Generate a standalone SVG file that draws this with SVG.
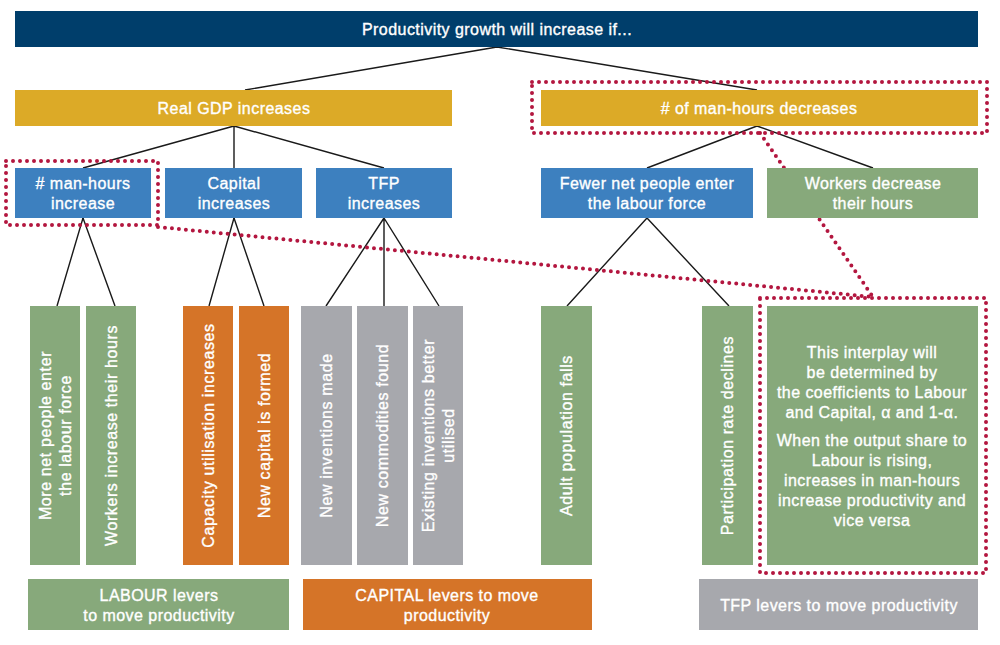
<svg xmlns="http://www.w3.org/2000/svg" width="1000" height="645" viewBox="0 0 1000 645">
<style>
text{font-family:"Liberation Sans",Arial,sans-serif;font-size:16px;fill:#fff;stroke:#fff;stroke-width:0.35;text-anchor:middle;letter-spacing:0.45px}
.v{letter-spacing:0.6px}
.navy{fill:#003e6b}
.gold{fill:#dcaa27}
.blue{fill:#3d80bf}
.green{fill:#87a97b}
.orange{fill:#d57428}
.gray{fill:#a7a8ad}
.con{stroke:#1a1a1a;stroke-width:1.4;fill:none}
.dot{stroke:#b3163f;stroke-width:4;stroke-dasharray:0 7;stroke-linecap:round;fill:none}
</style>
<rect width="1000" height="645" fill="#fff"/>
<g id="connectors">
<path class="con" d="M497,47L245,90M497,47L757,90"/>
<path class="con" d="M234,126L83,168M234,126L234,168M234,126L384,168"/>
<path class="con" d="M757,126L647,168M757,126L873,168"/>
<path class="con" d="M83,218L57,306M83,218L115,306"/>
<path class="con" d="M234,218L209,306M234,218L264,306"/>
<path class="con" d="M384,218L326,306M384,218L384,306M384,218L439,306"/>
<path class="con" d="M647,218L567,306M647,218L729,306"/>
<path class="dot" d="M158,227L873,297"/>
<path class="dot" d="M760,133L873,297"/>
</g>
<g id="top"><rect class="navy" x="15" y="11" width="963" height="36"/><text x="497" y="35">Productivity growth will increase if...</text></g>
<g id="realgdp"><rect class="gold" x="15" y="90" width="437" height="36"/><text x="234" y="114">Real GDP increases</text></g>
<g id="manhoursdec"><rect class="gold" x="541" y="90" width="437" height="36"/><text x="759" y="114"># of man-hours decreases</text>
<rect class="dot" x="532" y="82" width="455" height="51"/></g>
<g id="manhoursinc"><rect class="blue" x="15" y="168" width="136" height="50"/><text x="83" y="189"># man-hours</text><text x="83" y="209">increase</text>
<rect class="dot" x="6" y="161" width="152" height="64"/></g>
<g id="capital"><rect class="blue" x="165" y="168" width="137" height="50"/><text x="234" y="189">Capital</text><text x="234" y="209">increases</text></g>
<g id="tfp"><rect class="blue" x="316" y="168" width="136" height="50"/><text x="384" y="189">TFP</text><text x="384" y="209">increases</text></g>
<g id="fewer"><rect class="blue" x="541" y="168" width="212" height="50"/><text x="647" y="189">Fewer net people enter</text><text x="647" y="209">the labour force</text></g>
<g id="workersdec"><rect class="green" x="767" y="168" width="211" height="50"/><text x="873" y="189">Workers decrease</text><text x="873" y="209">their hours</text></g>
<g id="leaf1"><rect class="green" x="30" y="306" width="50" height="259"/><text class="v" transform="translate(51,435.5) rotate(-90)">More net people enter</text><text class="v" transform="translate(71,435.5) rotate(-90)">the labour force</text></g>
<g id="leaf2"><rect class="green" x="86" y="306" width="50" height="259"/><text class="v" transform="translate(117,435.5) rotate(-90)">Workers increase their hours</text></g>
<g id="leaf3"><rect class="orange" x="183" y="306" width="50" height="259"/><text class="v" transform="translate(214,435.5) rotate(-90)">Capacity utilisation increases</text></g>
<g id="leaf4"><rect class="orange" x="239" y="306" width="50" height="259"/><text class="v" transform="translate(270,435.5) rotate(-90)">New capital is formed</text></g>
<g id="leaf5"><rect class="gray" x="301" y="306" width="51" height="259"/><text class="v" transform="translate(332,435.5) rotate(-90)">New inventions made</text></g>
<g id="leaf6"><rect class="gray" x="357" y="306" width="51" height="259"/><text class="v" transform="translate(388,435.5) rotate(-90)">New commodities found</text></g>
<g id="leaf7"><rect class="gray" x="413" y="306" width="50" height="259"/><text class="v" transform="translate(434,435.5) rotate(-90)">Existing inventions better</text><text class="v" transform="translate(454,435.5) rotate(-90)">utilised</text></g>
<g id="leaf8"><rect class="green" x="541" y="306" width="51" height="259"/><text class="v" transform="translate(572,435.5) rotate(-90)">Adult population falls</text></g>
<g id="leaf9"><rect class="green" x="702" y="306" width="51" height="259"/><text class="v" transform="translate(733,435.5) rotate(-90)">Participation rate declines</text></g>
<g id="interplay"><rect class="green" x="767" y="306" width="211" height="259"/>
<text x="872" y="358">This interplay will</text>
<text x="872" y="378">be determined by</text>
<text x="872" y="398">the coefficients to Labour</text>
<text x="872" y="418">and Capital, α and 1-α.</text>
<text x="872" y="446">When the output share to</text>
<text x="872" y="466">Labour is rising,</text>
<text x="872" y="486">increases in man-hours</text>
<text x="872" y="506">increase productivity and</text>
<text x="872" y="526">vice versa</text>
<rect class="dot" x="760" y="298" width="226" height="275"/></g>
<g id="labour"><rect class="green" x="28" y="579" width="261" height="51"/><text x="159" y="601">LABOUR levers</text><text x="159" y="621">to move productivity</text></g>
<g id="capitallev"><rect class="orange" x="303" y="579" width="289" height="51"/><text x="447" y="601">CAPITAL levers to move</text><text x="447" y="621">productivity</text></g>
<g id="tfplev"><rect class="gray" x="699" y="579" width="279" height="51"/><text x="839" y="611">TFP levers to move productivity</text></g>
</svg>
